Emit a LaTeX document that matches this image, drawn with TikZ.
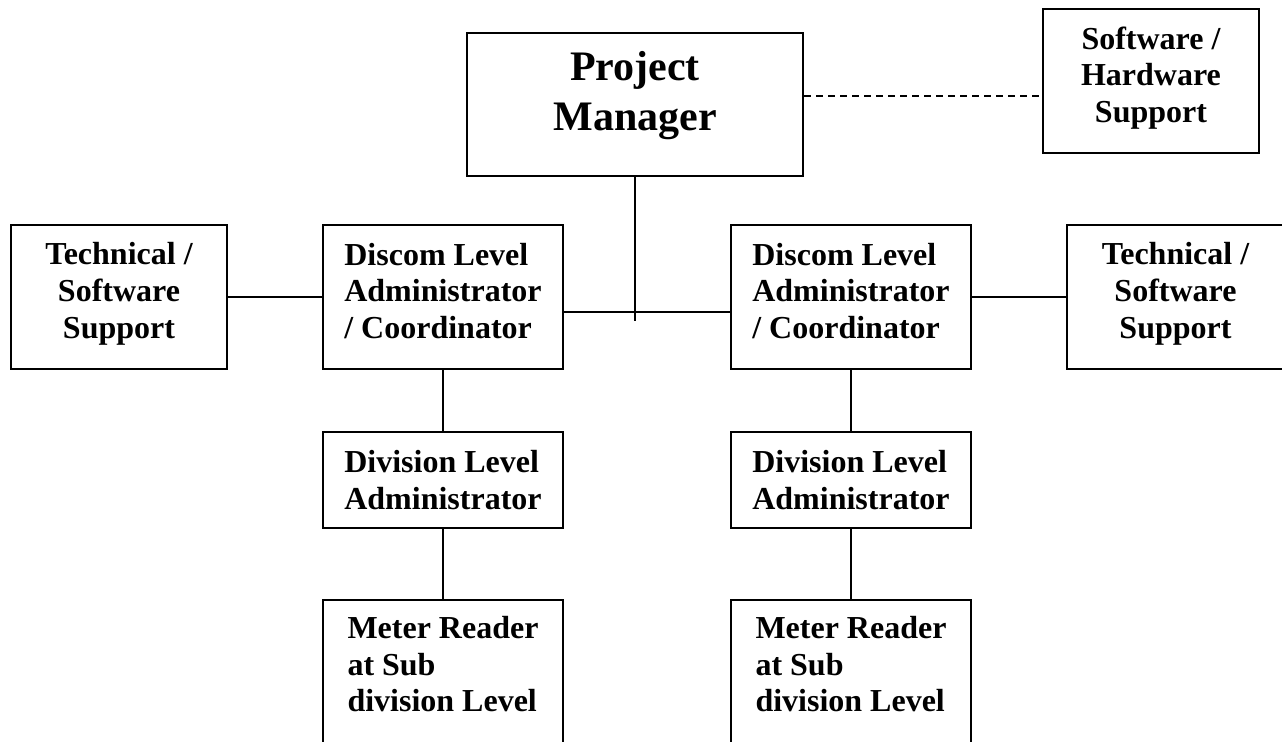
\documentclass[tikz,border=0pt]{standalone}
\usepackage{fontspec}
\setmainfont{Liberation Serif}
\usepackage{tikz}
\usetikzlibrary{calc}

\tikzset{
  orgbox/.style={draw=black, line width=1.3pt, rectangle, inner sep=0pt,
    minimum width=120pt, minimum height=72pt, align=left,
    font=\bfseries\fontsize{16}{18.3}\selectfont},
  discombox/.style={orgbox, text depth=6.3pt},
  divbox/.style={orgbox, minimum height=48pt},
  meterbox/.style={orgbox, text depth=8pt},
  helpbox/.style={orgbox, align=center, minimum width=108pt, text depth=6.5pt},
  headbox/.style={orgbox, align=center, minimum width=168pt, minimum height=71.5pt,
    text depth=14pt, font=\bfseries\fontsize{21}{25}\selectfont},
  link/.style={line width=1pt},
  dashlink/.style={line width=0.8pt, dash pattern=on 3.5pt off 2.5pt}
}

\begin{document}
\begin{tikzpicture}[x=0.5pt, y=-0.5pt]
      \useasboundingbox (0,0) rectangle (1282,742);
      \clip (0,0) rectangle (1282,742);

      \node[headbox] (pm) at (635,104.5) {Project\\Manager};
      \node[helpbox] (sh) at (1151,81) {Software /\\Hardware\\Support};

      \node[helpbox] (techl) at (119,297) {Technical /\\Software\\Support};
      \node[discombox] (dl) at (443,297) {Discom Level\\Administrator\\/ Coordinator};
      \node[discombox] (dr) at (851,297) {Discom Level\\Administrator\\/ Coordinator};
      \node[helpbox, minimum width=108.5pt] (techr) at (1175.5,297) {Technical /\\Software\\Support};

      \node[divbox] (divl) at (443,480) {Division Level\\Administrator};
      \node[divbox] (divr) at (851,480) {Division Level\\Administrator};

      \node[meterbox] (meterl) at (443,672) {Meter Reader\\at Sub\\division Level};
      \node[meterbox] (meterr) at (851,672) {Meter Reader\\at Sub\\division Level};

      \coordinate (dashlvl) at (900,96);
      \coordinate (bus) at (635,312);
      \coordinate (pmend) at (635,321);

      \draw[dashlink] (pm.east |- dashlvl) -- (sh.west |- dashlvl);
      \draw[link] (pm.south) -- (pmend);
      \draw[link] (dl.east |- bus) -- (dr.west |- bus);
      \draw[link] (techl.east) -- (dl.west);
      \draw[link] (dr.east) -- (techr.west);

      \foreach \a/\b/\c in {dl/divl/meterl, dr/divr/meterr} {
        \draw[link] (\a.south) -- (\b.north);
        \draw[link] (\b.south) -- (\c.north);
      }
    \end{tikzpicture}
\end{document}
